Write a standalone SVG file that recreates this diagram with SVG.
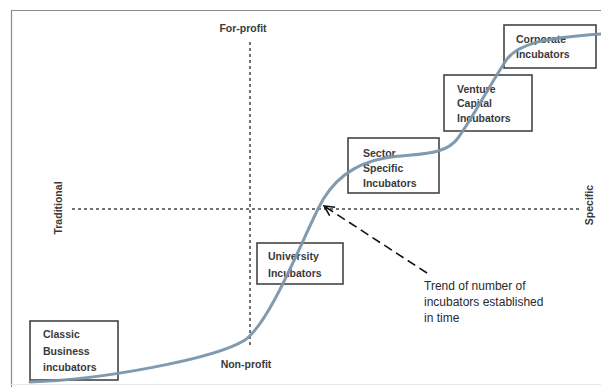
<svg xmlns="http://www.w3.org/2000/svg" width="601" height="387" viewBox="0 0 601 387">
<style>
.box{fill:#fff;stroke:#444;stroke-width:1.6}
.lbl{font-family:"Liberation Sans",Arial,sans-serif;font-size:10.5px;font-weight:bold;fill:#3a3a3a}
.ax{font-family:"Liberation Sans",Arial,sans-serif;font-size:10.5px;font-weight:bold;fill:#3a3a3a}
.note{font-family:"Liberation Sans",Arial,sans-serif;font-size:12px;fill:#2a2a2a}
.axis{stroke:#444;stroke-width:1.5;stroke-dasharray:3 3;fill:none}
</style>
<defs>
<marker id="open" viewBox="0 0 12 12" refX="11" refY="6" markerWidth="12" markerHeight="12" markerUnits="userSpaceOnUse" orient="auto">
<path d="M1,1 L11,6 L1,11" fill="none" stroke="#111" stroke-width="1.6"/>
</marker>
</defs>
<rect width="601" height="387" fill="#fff"/>
<path d="M11.5,387 V10.5 H601" fill="none" stroke="#8a8a8a" stroke-width="1.2"/>
<line x1="11" y1="384.5" x2="601" y2="384.5" stroke="#e6e6e6" stroke-width="1"/>
<g id="axes">
<line class="axis" x1="250" y1="42" x2="250" y2="347"/>
<line class="axis" x1="72" y1="209" x2="580" y2="209"/>
<text class="ax" x="243" y="32" text-anchor="middle">For-profit</text>
<text class="ax" x="246" y="368" text-anchor="middle">Non-profit</text>
<text class="ax" transform="translate(62,208) rotate(-90)" text-anchor="middle">Traditional</text>
<text class="ax" transform="translate(593,205) rotate(-90)" text-anchor="middle">Specific</text>
</g>
<g id="classic">
<rect class="box" x="30" y="321" width="88" height="59"/>
<text class="lbl" x="43" y="338">Classic</text>
<text class="lbl" x="43" y="355">Business</text>
<text class="lbl" x="43" y="371">incubators</text>
</g>
<g id="university">
<rect class="box" x="257" y="243" width="86" height="41"/>
<text class="lbl" x="268" y="260">University</text>
<text class="lbl" x="268" y="277">Incubators</text>
</g>
<g id="sector">
<rect class="box" x="348" y="138" width="91" height="55"/>
<text class="lbl" x="363" y="157">Sector</text>
<text class="lbl" x="363" y="172">Specific</text>
<text class="lbl" x="363" y="187">Incubators</text>
</g>
<g id="venture">
<rect class="box" x="444" y="75" width="88" height="56"/>
<text class="lbl" x="457" y="93">Venture</text>
<text class="lbl" x="457" y="107">Capital</text>
<text class="lbl" x="457" y="122">Incubators</text>
</g>
<g id="corporate">
<rect class="box" x="504" y="25" width="92" height="43"/>
<text class="lbl" x="516" y="43">Corporate</text>
<text class="lbl" x="516" y="58">Incubators</text>
</g>
<g id="connectors">
<path d="M30,382 C100,380 215,359 245,340 C270,322 300,245 318,209 C327,190 345,165 385,158 C420,153 445,156 458,138 C470,122 490,85 505,62 C515,45 540,38 601,34" fill="none" stroke="#7b95ab" stroke-width="3" stroke-linecap="round" opacity="0.95"/>
<line x1="427" y1="273" x2="324" y2="206" stroke="#111" stroke-width="1.6" stroke-dasharray="9 5" marker-end="url(#open)"/>
</g>
<g id="note">
<text class="note" x="424" y="290">Trend of number of</text>
<text class="note" x="424" y="306">incubators established</text>
<text class="note" x="424" y="322">in time</text>
</g>
</svg>
